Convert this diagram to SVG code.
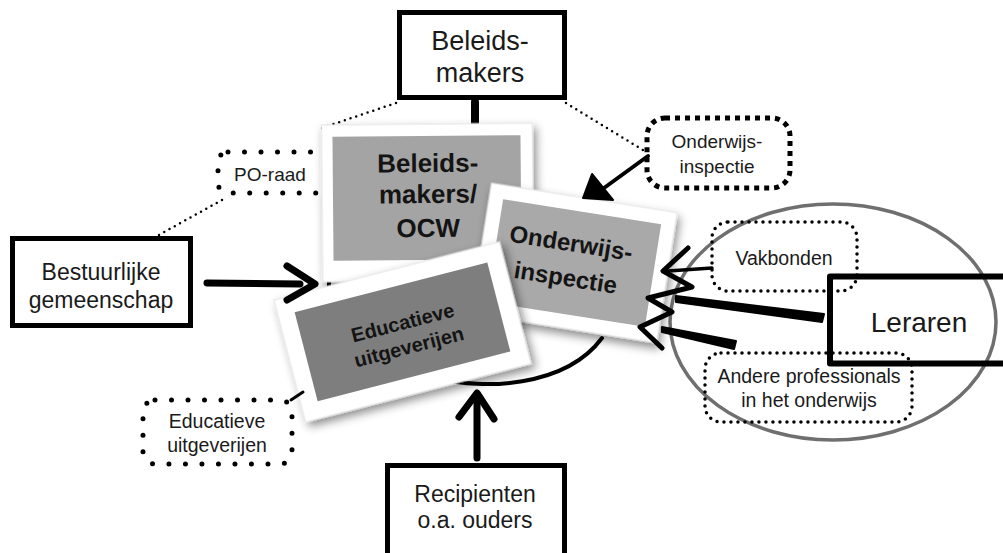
<svg xmlns="http://www.w3.org/2000/svg" width="1003" height="553" viewBox="0 0 1003 553">
<defs>
<style>
.box{fill:#fff;stroke:#000;stroke-width:5}
.lbl{font-family:"Liberation Sans",Arial,sans-serif;fill:#1a1a1a;text-anchor:middle}
.bold{font-family:"Liberation Sans",Arial,sans-serif;font-weight:bold;fill:#141414;text-anchor:middle}
.dotR{fill:none;stroke:#000;stroke-width:5;stroke-linecap:round;stroke-dasharray:0 16.5}
.dotS{fill:none;stroke:#000;stroke-width:3.5;stroke-linecap:round;stroke-dasharray:0 7}
.dotQ{fill:none;stroke:#000;stroke-width:5;stroke-dasharray:5 5}
.dl{fill:none;stroke:#000;stroke-width:2.5;stroke-linecap:round;stroke-dasharray:0 6}
.brush{fill:none;stroke:#000;stroke-width:7;stroke-linecap:round;stroke-linejoin:round}
.frame{fill:#fff;stroke:#e2e2e2;stroke-width:1}
</style>
<filter id="sh" x="-20%" y="-20%" width="150%" height="150%">
<feDropShadow dx="3" dy="5" stdDeviation="5" flood-color="#000" flood-opacity="0.45"/>
</filter>
</defs>

<g id="connectors-back">
<line class="dl" x1="396" y1="103" x2="322" y2="128"/>
<line class="dl" x1="222" y1="200" x2="157" y2="236"/>
<line class="dl" x1="566" y1="103" x2="643" y2="150"/>
<line x1="475" y1="102" x2="475" y2="126" stroke="#000" stroke-width="8" stroke-linecap="round"/>
<path d="M440 378 C480 390 565 388 602 338" fill="none" stroke="#000" stroke-width="4" stroke-linecap="round"/>
<line x1="329" y1="272" x2="329" y2="290" stroke="#000" stroke-width="4"/>
</g>

<ellipse id="group-ellipse" cx="833" cy="322" rx="163" ry="118" fill="none" stroke="#6f6f6f" stroke-width="3.5"/>

<g id="node-beleidsmakers">
<rect class="box" x="399.5" y="12.5" width="165" height="85"/>
<text class="lbl" x="480" y="50" font-size="27">Beleids-</text>
<text class="lbl" x="480" y="82" font-size="27">makers</text>
</g>

<g id="node-bestuurlijke">
<rect class="box" x="12.5" y="238.5" width="178" height="87"/>
<text class="lbl" x="101" y="280" font-size="23">Bestuurlijke</text>
<text class="lbl" x="101" y="308" font-size="23">gemeenschap</text>
</g>

<g id="node-recipienten">
<rect class="box" x="387.5" y="465.5" width="177" height="100"/>
<text class="lbl" x="475" y="502" font-size="23">Recipienten</text>
<text class="lbl" x="475" y="528" font-size="23">o.a. ouders</text>
</g>

<g id="node-leraren">
<rect x="830" y="276.5" width="200" height="87" fill="none" stroke="#000" stroke-width="6" stroke-linejoin="round"/>
<text class="lbl" x="919" y="332" font-size="28">Leraren</text>
</g>

<g id="node-po-raad">
<rect class="dotR" x="218" y="152" width="112" height="41" rx="10"/>
<text class="lbl" x="270" y="181" font-size="19">PO-raad</text>
</g>

<g id="node-onderwijs-dotted">
<rect class="dotQ" x="647" y="118" width="143" height="70" rx="18"/>
<text class="lbl" x="717" y="148" font-size="19">Onderwijs-</text>
<text class="lbl" x="717" y="173" font-size="19">inspectie</text>
</g>

<g id="node-vakbonden">
<rect class="dotS" x="712" y="222" width="145" height="69" rx="16"/>
<text class="lbl" x="784" y="265" font-size="19.5">Vakbonden</text>
</g>

<g id="node-andere">
<rect class="dotS" x="705" y="353" width="207" height="69" rx="16"/>
<text class="lbl" x="809" y="383" font-size="19.5">Andere professionals</text>
<text class="lbl" x="809" y="407" font-size="19.5">in het onderwijs</text>
</g>

<g id="node-educatieve-dotted">
<rect class="dotR" x="143" y="400" width="149" height="64" rx="12"/>
<text class="lbl" x="217" y="428" font-size="19.5">Educatieve</text>
<text class="lbl" x="217" y="452" font-size="19.5">uitgeverijen</text>
</g>

<g id="card-ocw" transform="translate(427,198) rotate(-0.5)">
<rect class="frame" x="-105" y="-74" width="211" height="157" filter="url(#sh)"/>
<rect x="-94" y="-62" width="188" height="124" fill="#a4a4a4"/>
<text class="bold" x="1" y="-26" font-size="26">Beleids-</text>
<text class="bold" x="1" y="5" font-size="26">makers/</text>
<text class="bold" x="1" y="39" font-size="26">OCW</text>
</g>

<g id="card-inspectie" transform="translate(574,263) rotate(9)">
<rect class="frame" x="-94" y="-66" width="188" height="132" filter="url(#sh)"/>
<rect x="-80" y="-52" width="160" height="104" fill="#a9a9a9"/>
<text class="bold" x="-6" y="-11" font-size="24">Onderwijs-</text>
<text class="bold" x="-6" y="24" font-size="24">inspectie</text>
</g>

<g id="card-educatieve" transform="translate(402,332) rotate(-14.5)">
<rect class="frame" x="-116" y="-63" width="233" height="126" filter="url(#sh)"/>
<rect x="-99" y="-46" width="199" height="92" fill="#7e7e7e"/>
<text class="bold" x="3" y="-2" font-size="20">Educatieve</text>
<text class="bold" x="3" y="23" font-size="20">uitgeverijen</text>
</g>

<g id="connectors">
<line class="brush" x1="207" y1="283" x2="300" y2="284"/>
<polyline class="brush" points="287,266 315,284 287,300"/>
<line class="brush" x1="477" y1="458" x2="477" y2="396"/>
<polyline class="brush" points="459,417 477,393 494,419"/>
<line x1="648" y1="156" x2="604" y2="188" stroke="#000" stroke-width="4" stroke-linecap="round"/>
<polygon points="583,198 592,174 613,200" fill="#000" stroke="#000" stroke-width="2" stroke-linejoin="round"/>
<line x1="291" y1="400" x2="303" y2="392" stroke="#000" stroke-width="3" stroke-linecap="round"/>
<line x1="712" y1="268" x2="668" y2="271" stroke="#000" stroke-width="3.5" stroke-linecap="round"/>
<polygon points="824,314 822,322 676,302 676,296" fill="#000" stroke="#000" stroke-width="2" stroke-linejoin="round"/>
<polygon points="736,341 734,349 662,332 662,327" fill="#000" stroke="#000" stroke-width="2" stroke-linejoin="round"/>
<polyline points="688,248 663,271 692,287 648,298 672,312 640,327 662,348" fill="none" stroke="#000" stroke-width="5" stroke-linecap="round" stroke-linejoin="round"/>
</g>
</svg>
